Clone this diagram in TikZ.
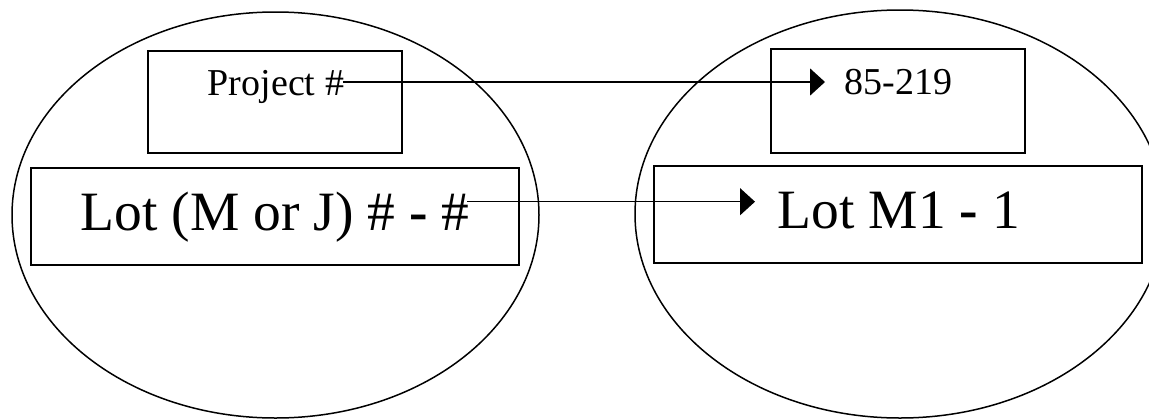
\documentclass[tikz,border=0pt]{standalone}
\usepackage{fontspec}
\setmainfont{Liberation Serif}
\usepackage{tikz}
\usetikzlibrary{shapes.geometric, arrows.meta}

\begin{document}
\begin{tikzpicture}[x=1pt, y=-1pt, line width=1.7pt, >={Triangle[length=15pt, width=27pt]},
    group/.style={draw, ellipse, inner sep=0pt, line width=1.5pt},
    field/.style={draw, rectangle, inner sep=0pt},
    small/.style={inner sep=0pt, text depth=0pt, font=\fontsize{38}{40}\selectfont},
    big/.style={inner sep=0pt, text depth=0pt, font=\fontsize{55.5}{60}\selectfont},
    link/.style={->, line width=1.5pt}]
    \useasboundingbox (0,0) rectangle (1149,418);
    \clip (0,0) rectangle (1149,418);
    \node[group, minimum width=527pt, minimum height=406pt] (src) at (275.5,215) {};
    \node[group, minimum width=530pt, minimum height=408pt] (dst) at (900,214) {};
    \node[field, minimum width=254pt, minimum height=102pt] (projbox) at (275,102) {};
    \node[field, minimum width=488pt, minimum height=97pt] (lotbox) at (275.2,216.5) {};
    \node[field, minimum width=254pt, minimum height=104pt] (numbox) at (898,101) {};
    \node[field, minimum width=488pt, minimum height=97pt] (lotmbox) at (898,214.3) {};
    \node[small, text height=26pt, anchor=base west] (projtxt) at (207,95) {Project \#};
    \node[small, text height=24pt, anchor=base west] (numtxt) at (844,94) {85-219};
    \node[big, text height=56.6pt, anchor=base west] (lottxt) at (80,230) {Lot (M or J) \# {\bfseries -} \#};
    \node[big, text height=52.6pt, anchor=base west] (lotmtxt) at (777,228) {Lot M1 {\bfseries -} 1};
    \draw[link, shorten <=-2pt, shorten >=19pt] (projtxt.east) -- (numtxt.west);
    \draw[link, shorten <=-3pt, shorten >=22pt] (lottxt.east) -- (lotmtxt.west);
  \end{tikzpicture}
\end{document}
